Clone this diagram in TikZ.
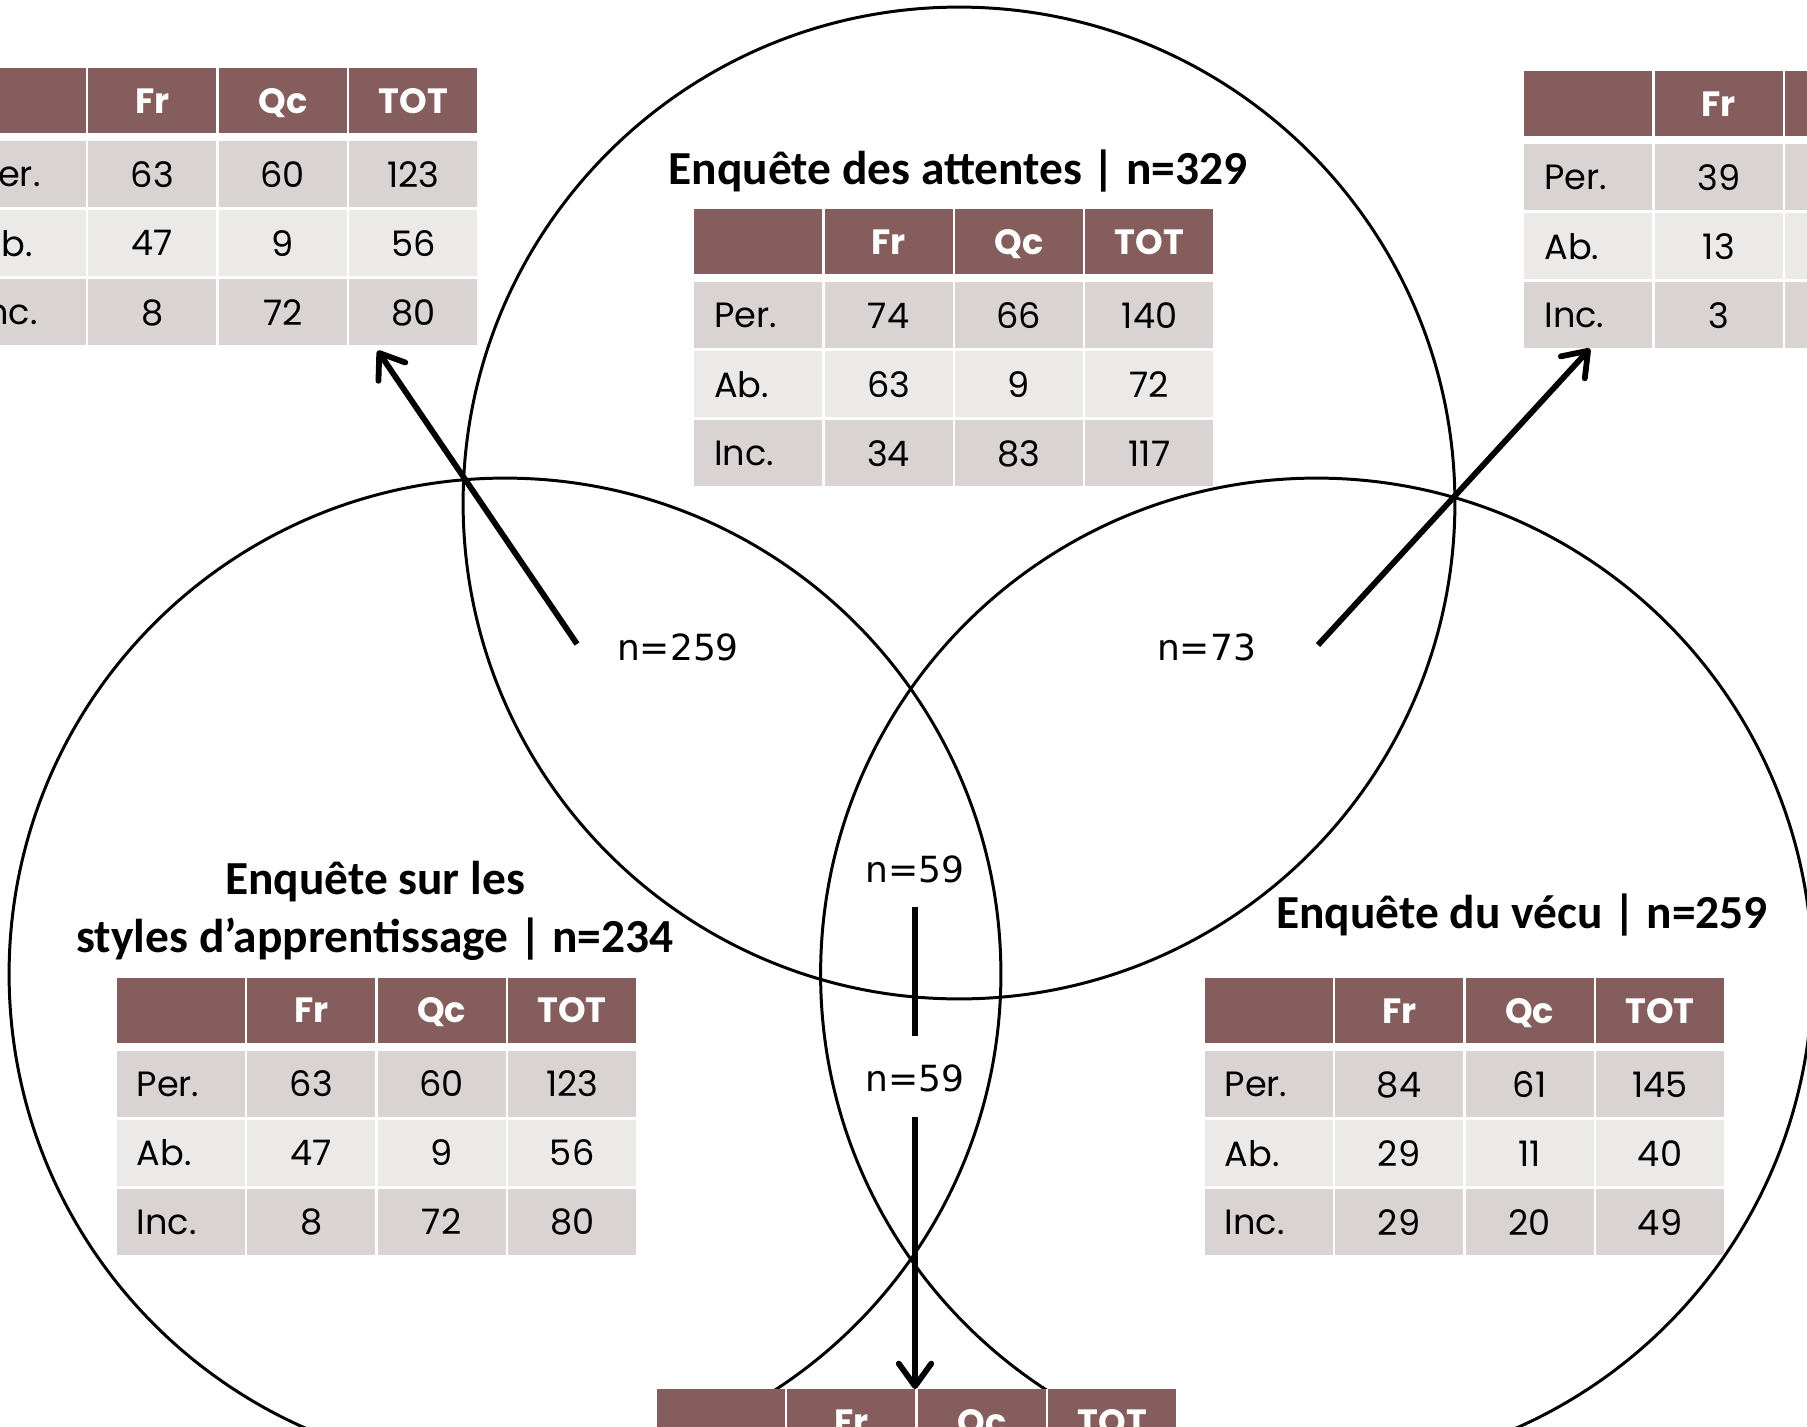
\documentclass[tikz,border=0pt]{standalone}
\usepackage{fontspec}
\usepackage{tikz}
\usetikzlibrary{arrows.meta,matrix,positioning}
\newfontfamily\tabfont{Poppins}
\newfontfamily\titrefont{Carlito}
\newfontfamily\nfont{DejaVu Sans}
\definecolor{entete}{HTML}{865D5D}
\definecolor{rangfonce}{HTML}{D9D3D3}
\definecolor{rangclair}{HTML}{ECEAE9}

\begin{document}
\begin{tikzpicture}[
    x=0.02cm, y=-0.02cm,
    ensemble/.style={line width=1.7pt},
    tableau/.style={matrix of nodes, nodes in empty cells, anchor=north west,
      inner sep=0pt, fill=white, column sep=0.05cm, row sep=0.06cm,
      nodes={anchor=center, inner sep=0pt, minimum width=2.56cm, minimum height=1.32cm,
        text depth=0pt, font=\tabfont\fontsize{20}{24}\selectfont},
      row 1/.style={nodes={fill=entete, text=white, minimum height=1.3cm,
        font=\tabfont\bfseries\fontsize{20}{24}\selectfont}},
      row 2/.style={nodes={fill=rangfonce}},
      row 3/.style={nodes={fill=rangclair}},
      row 4/.style={nodes={fill=rangfonce}},
      column 1/.style={nodes={text width=1.76cm, align=left}}},
    titre/.style={font=\titrefont\bfseries\fontsize{27}{32.5}\selectfont,
      align=center, anchor=base, inner sep=0pt},
    effectif/.style={font=\nfont\fontsize{20.5}{24}\selectfont, inner sep=0pt, anchor=base},
    fleche/.style={-{Straight Barb[length=0.45cm,width=0.65cm,round]}, line width=3.3pt},
    trait/.style={line width=3.3pt}
  ]
    \useasboundingbox (0,0) rectangle (1807,1426);
    \clip (0,0) rectangle (1807,1426);
    % Les trois enquetes
    \draw[ensemble] (959,503) circle[radius=9.92cm];
    \draw[ensemble] (505,974) circle[radius=9.92cm];
    \draw[ensemble] (1316.5,974) circle[radius=9.92cm];
    % Tableaux
    \matrix[tableau] (tl) at (-42.5,68) {
        & Fr & Qc & TOT \\[0.1cm]
      Per. & 63 & 60 & 123 \\
      Ab. & 47 & 9 & 56 \\
      Inc. & 8 & 72 & 80 \\
    };
    \matrix[tableau] (ttop) at (693.7,209) {
        & Fr & Qc & TOT \\[0.1cm]
      Per. & 74 & 66 & 140 \\
      Ab. & 63 & 9 & 72 \\
      Inc. & 34 & 83 & 117 \\
    };
    \matrix[tableau] (tr) at (1524,71) {
        & Fr & & \\[0.1cm]
      Per. & 39 & & \\
      Ab. & 13 & & \\
      Inc. & 3 & & \\
    };
    \matrix[tableau] (tg) at (116.4,977.5) {
        & Fr & Qc & TOT \\[0.1cm]
      Per. & 63 & 60 & 123 \\
      Ab. & 47 & 9 & 56 \\
      Inc. & 8 & 72 & 80 \\
    };
    \matrix[tableau] (td) at (1204.3,978) {
        & Fr & Qc & TOT \\[0.1cm]
      Per. & 84 & 61 & 145 \\
      Ab. & 29 & 11 & 40 \\
      Inc. & 29 & 20 & 49 \\
    };
    \matrix[tableau] (tb) at (656.5,1389) {
        & Fr & Qc & TOT \\[0.1cm]
        & & & \\
        & & & \\
        & & & \\
    };
    % Titres
    \node[titre] (tA) at (958,184) {Enquête des attentes | n=329};
    \node[titre] (tS) at (375,952) {Enquête sur les\\styles d’apprentissage | n=234};
    \node[titre] (tV) at (1522,928) {Enquête du vécu | n=259};
    % Intersections
    \node[effectif] (n259) at (678,660) {n=259};
    \node[effectif] (n73) at (1206.5,660) {n=73};
    \node[effectif] (n59a) at (915,882) {n=59};
    \node[effectif] (n59b) at (915,1091) {n=59};
    \coordinate (d259) at (577,644);
    \coordinate (d73) at (1318,645);
    % Fleches
    \draw[fleche] (d259) -- ([xshift=-2cm,yshift=-0.1cm]tl.south east);
    \draw[fleche] (d73) -- ([xshift=1.32cm]tr.south west);
    \draw[trait] ([yshift=-0.48cm]n59a.south) -- ([yshift=0.56cm]n59b.north);
    \draw[fleche] ([yshift=-0.5cm]n59b.south) -- (n59b |- tb.north);
\end{tikzpicture}
\end{document}
